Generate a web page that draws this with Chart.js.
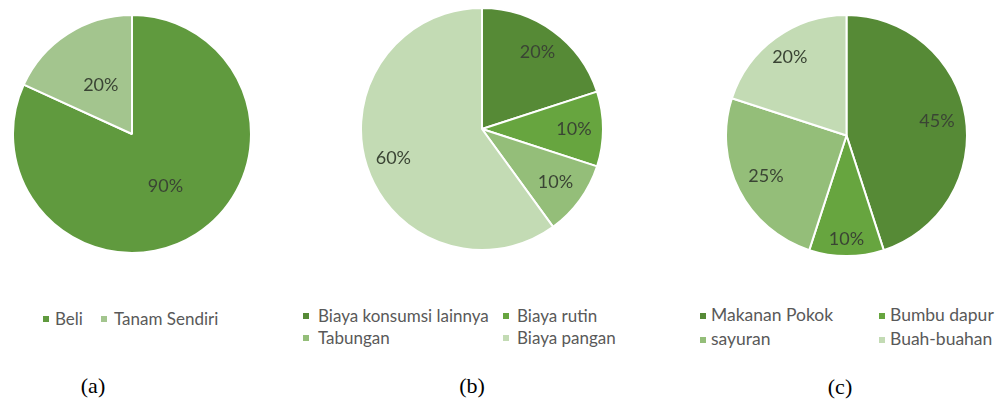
<!DOCTYPE html>
<html>
<head>
<meta charset="utf-8">
<script src="https://cdn.jsdelivr.net/npm/chart.js@4"></script>
<style>
  html, body { margin: 0; padding: 0; background: #ffffff; }
  body { width: 995px; height: 407px; position: relative; overflow: hidden; }
  canvas { position: absolute; }
  .lg { position: absolute; font-family: Lato, "Open Sans", sans-serif; color: #595959; white-space: nowrap; line-height: 1; }
  .mk { position: absolute; width: 6px; height: 6px; }
  .cap { position: absolute; font-family: "Liberation Serif", "Times New Roman", serif; font-size: 22px; color: #000; transform: translate(-50%, -50%); }
</style>
</head>
<body>
<canvas id="ca" width="240" height="240" style="left:12px;top:14px"></canvas>
<canvas id="cb" width="244" height="244" style="left:360px;top:7px"></canvas>
<canvas id="cc" width="243" height="243" style="left:725px;top:14px"></canvas>
<div class="cap" style="left:93px;top:386px">(a)</div>
<div class="cap" style="left:472px;top:386px">(b)</div>
<div class="cap" style="left:840px;top:387px">(c)</div>
<script>
// ---- data ----
const labelsA = ['Beli', 'Tanam Sendiri'];
const valuesA = [90, 20];

const labelsB = ['Biaya konsumsi lainnya', 'Biaya rutin', 'Tabungan', 'Biaya pangan'];
const valuesB = [20, 10, 10, 60];

const labelsC = ['Makanan Pokok', 'Bumbu dapur', 'sayuran', 'Buah-buahan'];
const valuesC = [45, 10, 25, 20];

// ---- styles ----
const colorsA = ['#609a3e', '#a3c58e'];
const colorsB = ['#568a36', '#67a53f', '#94be79', '#c3dbb4'];
const colorsC = ['#568a36', '#67a53f', '#94be79', '#c3dbb4'];

// label distance from centre as a fraction of radius (Excel "best fit" look)
const labelPosA = [0.52, 0.485];
const labelPosB = [0.78, 0.76, 0.75, 0.77];
const labelPosC = [0.76, 0.86, 0.75, 0.80];

const pieLabelPlugin = {
  id: 'pieLabels',
  afterDatasetsDraw(chart, args, opts) {
    const ctx = chart.ctx;
    const meta = chart.getDatasetMeta(0);
    const ds = chart.data.datasets[0];
    ctx.save();
    ctx.font = opts.font;
    ctx.fillStyle = opts.color;
    ctx.textAlign = 'center';
    ctx.textBaseline = 'middle';
    meta.data.forEach((arc, i) => {
      const p = arc.getProps(['x', 'y', 'startAngle', 'endAngle', 'outerRadius'], true);
      const mid = (p.startAngle + p.endAngle) / 2;
      const r = p.outerRadius * opts.pos[i];
      ctx.fillText(ds.data[i] + '%', p.x + Math.cos(mid) * r, p.y + Math.sin(mid) * r);
    });
    ctx.restore();
  }
};

function makePie(id, labels, values, colors, pos, fontSize) {
  return new Chart(document.getElementById(id), {
    type: 'pie',
    data: {
      labels: labels,
      datasets: [{
        data: values,
        backgroundColor: colors,
        borderColor: '#ffffff',
        borderWidth: 2,
        hoverOffset: 0
      }]
    },
    options: {
      responsive: false,
      animation: false,
      events: [],
      layout: { padding: 0 },
      plugins: {
        legend: { display: false },
        tooltip: { enabled: false },
        pieLabels: { pos: pos, font: fontSize + 'px Lato', color: '#3a4434' }
      }
    },
    plugins: [pieLabelPlugin]
  });
}

const chartA = makePie('ca', labelsA, valuesA, colorsA, labelPosA, 18);
const chartB = makePie('cb', labelsB, valuesB, colorsB, labelPosB, 18);
const chartC = makePie('cc', labelsC, valuesC, colorsC, labelPosC, 18);

// HTML legends built from the charts' own legend items
function makeLegend(chart, layout) {
  const items = chart.options.plugins.legend.labels.generateLabels(chart);
  items.forEach((it, i) => {
    const c = i % layout.cols.length;
    const col = layout.cols[c];
    const row = Math.floor(i / layout.cols.length);
    const y = layout.rows[row];
    const mk = document.createElement('div');
    mk.className = 'mk';
    mk.style.background = it.fillStyle;
    mk.style.left = col + 'px';
    mk.style.top = (y - 3) + 'px';
    document.body.appendChild(mk);
    const tx = document.createElement('div');
    tx.className = 'lg';
    tx.textContent = it.text;
    tx.style.fontSize = layout.size + 'px';
    tx.style.left = (col + layout.gaps[c]) + 'px';
    tx.style.top = y + 'px';
    tx.style.transform = 'translateY(-55%)';
    document.body.appendChild(tx);
  });
}

makeLegend(chartA, { cols: [43, 101], rows: [319], gaps: [12, 13], size: 17 });
makeLegend(chartB, { cols: [303, 503], rows: [316, 338], gaps: [15, 14], size: 17 });
makeLegend(chartC, { cols: [700, 879], rows: [316, 340], gaps: [11, 11], size: 17.5 });
</script>
</body>
</html>
